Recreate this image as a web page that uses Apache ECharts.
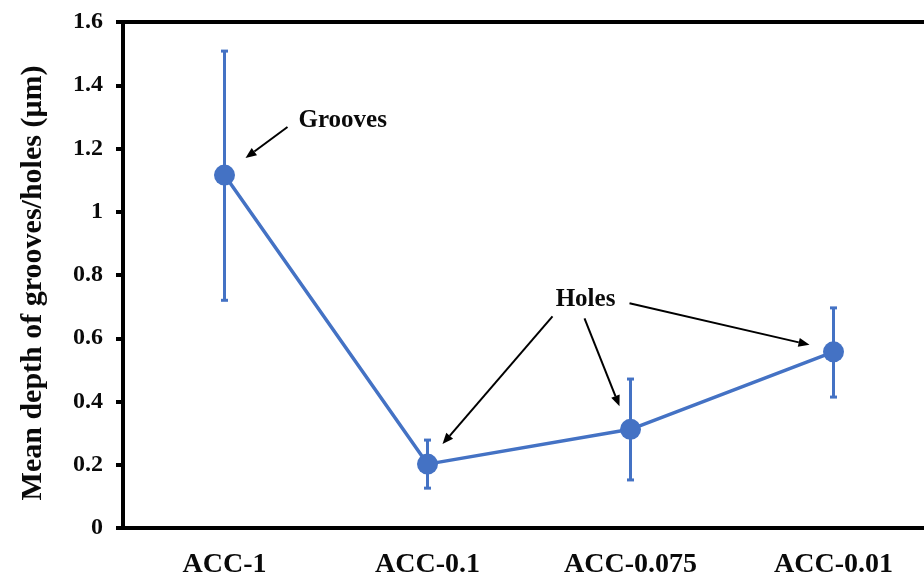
<!DOCTYPE html>
<html>
<head>
<meta charset="utf-8">
<script src="https://cdn.jsdelivr.net/npm/echarts@6/dist/echarts.min.js"></script>
<style>
  html, body { margin: 0; padding: 0; background: #fff; }
  #chart { width: 924px; height: 577px; }
</style>
</head>
<body>
<div id="chart"></div>
<script>
// Mean depth of surface features per sample, with error bar bounds
const categories = ['ACC-1', 'ACC-0.1', 'ACC-0.075', 'ACC-0.01'];
const meanDepth = [1.116, 0.202, 0.312, 0.557];
const errLow = [0.72, 0.126, 0.152, 0.414];
const errHigh = [1.508, 0.278, 0.471, 0.696];
const yTicks = [0, 0.2, 0.4, 0.6, 0.8, 1.0, 1.2, 1.4, 1.6];

const BLUE = '#4472C4';
const INK = '#0a0a0a';
const FONT = '"Liberation Serif", "Times New Roman", serif';

const chart = echarts.init(document.getElementById('chart'));

const errData = categories.map((c, i) => [i, errLow[i], errHigh[i]]);

chart.setOption({
  animation: false,
  backgroundColor: '#fff',
  // the plot runs past the right edge of the canvas
  grid: { left: 123, width: 812, top: 22, bottom: 49, outerBoundsMode: 'none', containLabel: false },
  xAxis: [{
    type: 'category',
    data: categories,
    boundaryGap: true,
    axisLine: { lineStyle: { color: '#000', width: 4 } },
    axisTick: { alignWithLabel: true, length: 7, lineStyle: { color: '#000', width: 4 } },
    axisLabel: { color: INK, fontFamily: FONT, fontWeight: 'bold', fontSize: 28, margin: 23 }
  }, {
    type: 'category',
    data: categories,
    position: 'top',
    axisLine: { lineStyle: { color: '#000', width: 4 } },
    axisTick: { show: false },
    axisLabel: { show: false }
  }],
  yAxis: {
    type: 'value',
    min: yTicks[0],
    max: yTicks[yTicks.length - 1],
    interval: 0.2,
    name: 'Mean depth of grooves/holes (μm)',
    nameLocation: 'middle',
    nameGap: 75,
    nameTextStyle: { color: INK, fontFamily: FONT, fontWeight: 'bold', fontSize: 30, padding: [0, 16, 0, 0] },
    splitLine: { show: false },
    axisLine: { show: true, lineStyle: { color: '#000', width: 4 } },
    axisTick: { show: true, length: 7, lineStyle: { color: '#000', width: 4 } },
    axisLabel: {
      color: INK, fontFamily: FONT, fontWeight: 'bold', fontSize: 24, margin: 20,
      formatter: v => String(+v.toFixed(1))
    }
  },
  series: [{
    type: 'custom',
    name: 'error',
    data: errData,
    z: 2,
    renderItem: (params, api) => {
      const x = api.value(0);
      const lo = api.coord([x, api.value(1)]);
      const hi = api.coord([x, api.value(2)]);
      const cap = 3.5;
      const style = { stroke: BLUE, lineWidth: 3 };
      return {
        type: 'group',
        children: [
          { type: 'line', shape: { x1: lo[0], y1: lo[1], x2: hi[0], y2: hi[1] }, style },
          { type: 'line', shape: { x1: lo[0] - cap, y1: lo[1], x2: lo[0] + cap, y2: lo[1] }, style },
          { type: 'line', shape: { x1: hi[0] - cap, y1: hi[1], x2: hi[0] + cap, y2: hi[1] }, style }
        ]
      };
    }
  }, {
    type: 'line',
    name: 'mean',
    data: meanDepth,
    z: 3,
    symbol: 'circle',
    symbolSize: 21,
    itemStyle: { color: BLUE },
    lineStyle: { color: BLUE, width: 3.5 }
  }]
});

// Annotation arrows, placed relative to the plotted points
function pt(i) {
  return chart.convertToPixel({ seriesIndex: 1 }, [i, meanDepth[i]]);
}
function arrow(x1, y1, x2, y2) {
  const ang = Math.atan2(y2 - y1, x2 - x1);
  const L = 11, W = 4.5;
  const bx = x2 - L * Math.cos(ang), by = y2 - L * Math.sin(ang);
  const px = -Math.sin(ang) * W, py = Math.cos(ang) * W;
  return [
    { type: 'line', shape: { x1, y1, x2: bx, y2: by }, style: { stroke: '#000', lineWidth: 2 }, z: 10 },
    { type: 'polygon', shape: { points: [[x2, y2], [bx + px, by + py], [bx - px, by - py]] }, style: { fill: '#000' }, z: 10 }
  ];
}

const p0 = pt(0), p1 = pt(1), p2 = pt(2), p3 = pt(3);
const holesX = p2[0] - 45, holesY = p2[1] - 130;

const elements = [
  { type: 'text', x: p0[0] + 74, y: p0[1] - 55,
    style: { text: 'Grooves', font: 'bold 25px ' + FONT, fill: INK, verticalAlign: 'middle' }, z: 10 },
  ...arrow(p0[0] + 63, p0[1] - 48, p0[0] + 21, p0[1] - 17),
  { type: 'text', x: holesX, y: holesY,
    style: { text: 'Holes', font: 'bold 25px ' + FONT, fill: INK, align: 'center', verticalAlign: 'middle' }, z: 10 },
  ...arrow(holesX - 33, holesY + 17, p1[0] + 15, p1[1] - 20),
  ...arrow(holesX - 1, holesY + 19, p2[0] - 11, p2[1] - 23),
  ...arrow(holesX + 44, holesY + 4, p3[0] - 24, p3[1] - 7)
];

chart.setOption({ graphic: { elements } });
</script>
</body>
</html>
